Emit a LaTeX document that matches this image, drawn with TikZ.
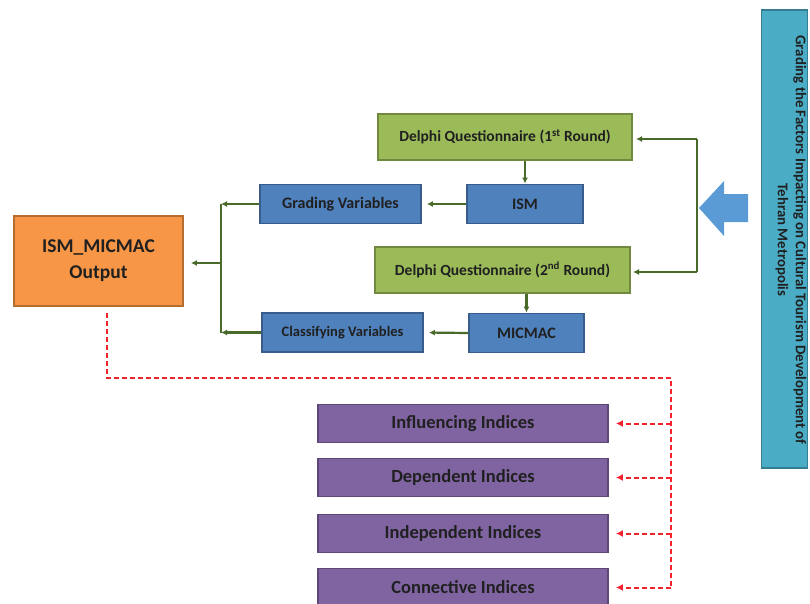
\documentclass[tikz,border=0pt]{standalone}
\usepackage{fontspec}
\setmainfont{Carlito}
\usepackage{xcolor}
\usepackage{tikz}
\usetikzlibrary{arrows.meta,calc}
\definecolor{delphifill}{HTML}{9BBB59}
\definecolor{delphidraw}{HTML}{71893F}
\definecolor{methodfill}{HTML}{4F81BD}
\definecolor{methoddraw}{HTML}{385D8A}
\definecolor{outfill}{HTML}{F79646}
\definecolor{outdraw}{HTML}{B66D31}
\definecolor{indexfill}{HTML}{8064A2}
\definecolor{indexdraw}{HTML}{5C4776}
\definecolor{goalfill}{HTML}{4BACC6}
\definecolor{goaldraw}{HTML}{357D91}
\definecolor{bigarrow}{HTML}{5B9BD5}
\definecolor{flow}{HTML}{4A6A2A}
\definecolor{link}{HTML}{F5222D}
\definecolor{ink}{HTML}{202020}

\begin{document}
\begin{tikzpicture}[x=1pt,y=-1pt]
        \tikzstyle{box} = [draw,line width=1.8pt,inner sep=0pt,text=ink,font=\bfseries\fontsize{16}{18}\selectfont]
        \tikzstyle{delphi} = [box,fill=delphifill,draw=delphidraw,minimum height=46pt,font=\bfseries\fontsize{15.5}{18}\selectfont]
        \tikzstyle{method} = [box,fill=methodfill,draw=methoddraw,minimum height=39pt]
        \tikzstyle{output} = [box,fill=outfill,draw=outdraw,align=center,font=\bfseries\fontsize{19.5}{26}\selectfont]
        \tikzstyle{index} = [box,fill=indexfill,draw=indexdraw,minimum width=290pt,minimum height=38pt,font=\bfseries\fontsize{18.5}{20}\selectfont]
        \tikzstyle{goal} = [box,fill=goalfill,draw=goaldraw,minimum width=46pt,minimum height=458pt]
        \tikzstyle{flowline} = [draw=flow,line width=2.2pt,-{Latex[length=6pt,width=6pt]}]
        \tikzstyle{linkline} = [draw=link,line width=2pt,dash pattern=on 5pt off 3pt]
        %
        \useasboundingbox (0,0) rectangle (810,604);
        % Goal box on the right.
        \node[goal] (goal) at (784.5,239) {};
        \node[rotate=-90,align=center,text=ink,font=\bfseries\fontsize{14.8}{18}\selectfont] (goaltext) at (791,240)
            {Grading the Factors Impacting on Cultural Tourism Development of\\Tehran Metropolis};
        \fill[bigarrow] (699,208) -- (724,181) -- (724,194) -- (748,194) -- (748,222) -- (724,222) -- (724,236) -- cycle;
        % Delphi rounds.
        \node[delphi,minimum width=254pt] (d1) at (505,137) {Delphi Questionnaire (1\textsuperscript{st} Round)};
        \node[delphi,minimum width=255pt] (d2) at (502.5,270) {Delphi Questionnaire (2\textsuperscript{nd} Round)};
        % Methods.
        \node[method,minimum width=116pt] (ism) at (525,204) {ISM};
        \node[method,minimum width=115pt] (micmac) at (526.5,333) {MICMAC};
        \node[method,minimum width=161pt] (grad) at (340.5,204) {Grading Variables};
        \node[method,minimum width=161pt,font=\bfseries\fontsize{14.5}{16}\selectfont] (class) at (342.5,332.5) {Classifying Variables};
        % Output.
        \node[output,minimum width=169pt,minimum height=90pt] (out) at (98.5,261) {ISM\_MICMAC\\Output};
        % Indices.
        \node[index] (infl) at (463,423.5) {Influencing Indices};
        \node[index] (dep) at (463,477.5) {Dependent Indices};
        \node[index] (indep) at (463,533.5) {Independent Indices};
        \node[index] (conn) at (463,587.5) {Connective Indices};
        % Coordinates for the lines.
        \coordinate (brk1) at (697,139);
        \coordinate (brk2) at (697,272);
        \coordinate (jn) at (221,263);
        \coordinate (rd1) at (107,378);
        \coordinate (rd2) at (671,378);
        % Draw lines.
        \draw[flowline,line width=2.8pt] (brk1) -- (brk2) (brk1) -- ++(-61,0);
        \draw[flowline,line width=2.8pt] (brk2) -- ++(-64,0);
        \draw[flowline] (d1.south -| ism.north) -- (ism.north);
        \draw[flowline] (d2.south -| micmac.north) -- (micmac.north);
        \draw[flowline,shorten >=5pt] (ism.west) -- (grad.east);
        \draw[flowline,shorten >=5pt] (micmac.west) -- (class.east);
        \draw[draw=flow,line width=2.2pt] (grad.west -| jn) -- (class.west -| jn);
        \draw[flowline] (grad.west) -- (grad.west -| jn);
        \draw[flowline] (class.west) -- (class.west -| jn);
        \draw[flowline,shorten >=7pt] (jn) -- (jn -| out.east);
        \draw[linkline] (out.south -| rd1) ++(0,6) -- (rd1) -- (rd2) -- (rd2 |- conn);
        \foreach \idx in {infl,dep,indep,conn}
            \draw[linkline,-{Latex[length=7pt,width=7pt]},shorten >=7pt] (rd2 |- \idx) -- (\idx.east);
        %
\end{tikzpicture}
\end{document}
